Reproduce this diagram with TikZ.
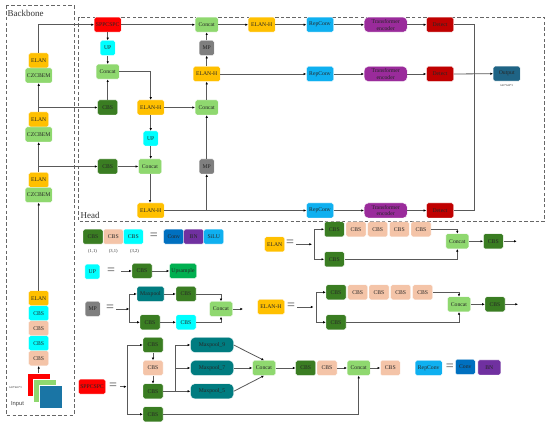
\documentclass[tikz,border=0pt]{standalone}
\usepackage{fontspec}
\setmainfont{Liberation Serif}
\newfontfamily\lsans{Liberation Sans}
\usetikzlibrary{arrows.meta,calc}
\tikzset{
 x=1pt,y=-1pt,
 bx/.style={rounded corners=1.6pt,draw=white,line width=0.4pt,inner sep=0pt,align=center,font=\fontsize{5.7}{6.8}\selectfont,text=black!85,minimum height=15pt},
 w15/.style={bx,minimum width=15pt},
 w20/.style={bx,minimum width=20pt},
 w23/.style={bx,minimum width=23pt},
 w27/.style={bx,minimum width=27pt},
 w43/.style={bx,minimum width=43pt,rounded corners=4pt},
 dcbs/.style={w20,fill=cdg},
 pcbs/.style={w20,fill=cpe},
 ccbs/.style={w20,fill=ccy},
 elan/.style={w20,fill=cor},
 elanh/.style={w27,fill=cor},
 cz/.style={w27,fill=clg},
 conc/.style={w23,fill=clg},
 upb/.style={w15,fill=ccy},
 mpb/.style={w15,fill=cgr},
 spp/.style={w27,fill=red},
 rep/.style={w27,fill=crp},
 tre/.style={w43,fill=cpu},
 det/.style={w27,fill=cde},
 mpool/.style={w27,fill=cte},
 mpoolw/.style={w43,fill=cte},
 sq/.style={draw=white,line width=0.4pt,minimum width=23pt,minimum height=23pt,inner sep=0pt},
 ln/.style={draw=black!65,line width=0.8pt},
 ar/.style={ln,-{Latex[length=2.6pt,width=2.4pt,color=black]}},
 dashbox/.style={draw=black!60,line width=0.8pt,dash pattern=on 3.5pt off 2.2pt},
 eqs/.style={inner sep=0pt,font=\fontsize{14}{14}\selectfont,text=black!70},
 lbl/.style={inner sep=0pt,font=\fontsize{4.6}{5}\selectfont,text=black!80},
 tiny/.style={inner sep=0pt,font=\fontsize{2.8}{3}\selectfont,text=black!80},
 title/.style={inner sep=0pt,font=\fontsize{9}{10}\selectfont,text=black!80},
}
\definecolor{cdg}{HTML}{3A7D22}
\definecolor{cpe}{HTML}{F4C4A8}
\definecolor{ccy}{HTML}{00FFFF}
\definecolor{cor}{HTML}{FFC000}
\definecolor{clg}{HTML}{8FD86F}
\definecolor{cgr}{HTML}{7F7F7F}
\definecolor{crp}{HTML}{0FB0F0}
\definecolor{cpu}{HTML}{9A2B9B}
\definecolor{cde}{HTML}{C00000}
\definecolor{cte}{HTML}{007C80}
\definecolor{cco}{HTML}{0070C0}
\definecolor{cbn}{HTML}{7030A0}
\definecolor{cup}{HTML}{00B050}
\definecolor{cou}{HTML}{1F6485}
\definecolor{cib}{HTML}{1A75A5}
\begin{document}
\begin{tikzpicture}
\useasboundingbox (0,0) rectangle (550,427);
\fill[white] (0,0) rectangle (550,427);
% frames
\draw[dashbox] (6,5.5) rectangle (74,415);
\draw[dashbox] (78.5,17.5) rectangle (544.5,221.5);
\node[title,anchor=west] (tb) at (7.5,13) {Backbone};
\node[title,anchor=west] (th) at (80.5,215.5) {Head};
% backbone
\node[elan] (e3) at (38.7,60.5) {ELAN};
\node[cz] (c3) at (38.7,75.5) {CZCBEM};
\node[elan] (e2) at (38.7,119.5) {ELAN};
\node[cz] (c2) at (38.7,134.5) {CZCBEM};
\node[elan] (e1) at (38.7,180) {ELAN};
\node[cz] (c1) at (38.7,195) {CZCBEM};
\node[elan] (e0) at (38.7,298.3) {ELAN};
\node[ccbs] (b4) at (38.7,313.3) {CBS};
\node[pcbs] (b3) at (38.7,328.3) {CBS};
\node[ccbs] (b2) at (38.7,343.3) {CBS};
\node[pcbs] (b1) at (38.7,358.3) {CBS};
\node[sq,fill=red] (i1) at (38.7,384.7) {};
\node[sq,fill=clg] (i2) at (44.5,390.5) {};
\node[sq,fill=cib] (i3) at (50.2,396.5) {};
\node[tiny] (its) at (15.5,387.7) {640*640*3};
\node[inner sep=0pt,font=\lsans\fontsize{5.8}{6}\selectfont,text=black!75] (il) at (17.5,404) {Input};
% head
\node[spp] (spp) at (107.7,24.7) {SPPCSPC};
\node[upb] (u1) at (107.7,48) {UP};
\node[conc] (k1) at (107.7,71.7) {Concat};
\node[dcbs] (d1) at (107.7,107.5) {CBS};
\node[elanh] (h1) at (150.7,107.5) {ELAN-H};
\node[upb] (u2) at (150.7,138.5) {UP};
\node[conc] (k2) at (150,166.5) {Concat};
\node[dcbs] (d2) at (107.7,166.5) {CBS};
\node[elanh] (h2) at (150.7,210.5) {ELAN-H};
\node[mpb] (m1) at (206.7,166.5) {MP};
\node[conc] (k3) at (206.7,107.5) {Concat};
\node[elanh] (h3) at (206.7,74) {ELAN-H};
\node[mpb] (m2) at (206.7,48) {MP};
\node[conc] (k4) at (206.7,24.7) {Concat};
\node[elanh] (h4) at (261.7,24.7) {ELAN-H};
\node[rep] (r1) at (320,24.7) {RepConv};
\node[rep] (r2) at (320,74) {RepConv};
\node[rep] (r3) at (320,210.5) {RepConv};
\node[tre] (t1) at (385.7,24.7) {Transformer\\encoder};
\node[tre] (t2) at (385.7,74) {Transformer\\encoder};
\node[tre] (t3) at (385.7,210.5) {Transformer\\encoder};
\node[det] (p1) at (440,24.7) {Detect};
\node[det] (p2) at (440,74) {Detect};
\node[det] (p3) at (440,210.5) {Detect};
\node[w27,fill=cou] (out) at (506.7,73.7) {Output};
\node[tiny] (ots) at (506.7,85.7) {640*640*3};
\coordinate (vb) at (474.3,74);
% backbone connectors
\draw[ar] (i1.north) -- (b1.south);
\draw[ar] (e0.north) -- (c1.south);
\draw[ar] (e1.north) -- (c2.south);
\draw[ar] (e2.north) -- (c3.south);
\draw[ar] (e3.north) |- (spp.west);
\draw[ar] (e1.north |- d2.west) -- (d2.west);
\draw[ar] (e2.north |- d1.west) -- (d1.west);
% head connectors
\draw[ar] (spp.south) -- (u1.north);
\draw[ar] (u1.south) -- (k1.north);
\draw[ar] (d1.north) -- (k1.south);
\draw[ar] (k1.east) -| (h1.north);
\draw[ar] (h1.south) -- (u2.north);
\draw[ar] (u2.south) -- (u2.south |- k2.north);
\draw[ar] (d2.east) -- (k2.west);
\draw[ar] (k2.south) -- (k2.south |- h2.north);
\draw[ar] (h1.east) -- (k3.west);
\draw[ar] (m1.north) -- (k3.south);
\draw[ar] (k3.north) -- (h3.south);
\draw[ar] (h3.north) -- (m2.south);
\draw[ar] (m2.north) -- (k4.south);
\draw[ar] (spp.east) -- (k4.west);
\draw[ar] (k4.east) -- (h4.west);
\draw[ar] (h4.east) -- (r1.west);
\draw[ar] (h3.east) -- (r2.west);
\draw[ar] (h2.east) -- (r3.west);
\draw[ar] (m1.south |- h2.east) -- (m1.south);
\draw[ar] (r1.east) -- (t1.west);
\draw[ar] (r2.east) -- (t2.west);
\draw[ar] (r3.east) -- (t3.west);
\draw[ar] (t1.east) -- (p1.west);
\draw[ar] (t2.east) -- (p2.west);
\draw[ar] (t3.east) -- (p3.west);
\draw[ln] (p1.east) -| (vb);
\draw[ln] (p3.east) -| (vb);
\draw[ar] (p2.east) -- (out.west);
% legend CBS
\node[dcbs] (l1) at (93,236.7) {CBS};
\node[pcbs] (l2) at (113.3,236.7) {CBS};
\node[ccbs] (l3) at (133.3,236.7) {CBS};
\node[eqs] (q1) at (153.7,236) {=};
\node[w20,fill=cco] (l4) at (173.7,236.7) {Conv};
\node[w20,fill=cbn] (l5) at (193.7,236.7) {BN};
\node[w20,fill=crp] (l6) at (213.7,236.7) {SiLU};
\node[lbl] (a1) at (92.5,251) {(1,1)};
\node[lbl] (a2) at (113.3,251) {(3,1)};
\node[lbl] (a3) at (134.5,251) {(3,2)};
% legend UP
\node[upb] (lu) at (92.3,271.7) {UP};
\node[eqs] (q2) at (111,271) {=};
\coordinate (lua) at (121,271);
\node[dcbs] (lud) at (142,271) {CBS};
\node[w27,fill=cup] (lus) at (183,271) {Upsample};
\draw[ar] (lua) -- (lud.west);
\draw[ar] (lud.east) -- (lus.west);
% legend MP
\node[mpb] (lm) at (92.7,309) {MP};
\node[eqs] (q3) at (110,308.5) {=};
\coordinate (ma) at (116,309);
\coordinate (mj) at (129.3,309);
\node[mpool] (mm) at (150.5,294) {Maxpool};
\node[dcbs] (md) at (186,294) {CBS};
\node[dcbs] (me) at (150,322.3) {CBS};
\node[ccbs] (mc) at (186,322.3) {CBS};
\node[conc] (mk) at (221,309) {Concat};
\coordinate (mo) at (243,309);
\draw[ar] (ma) -- (mj);
\draw[ar] (mj) |- (mm.west);
\draw[ar] (mj) |- (me.west);
\draw[ar] (mm.east) -- (md.west);
\draw[ar] (me.east) -- (mc.west);
\draw[ar] (md.east) -| (mk.north);
\draw[ar] (mc.east) -| (mk.south);
\draw[ar] (mk.east) -- (mo);
% legend SPPCSPC
\node[spp] (ls) at (92,386.7) {SPPCSPC};
\node[eqs] (q4) at (113,386) {=};
\coordinate (sa) at (120,386.7);
\coordinate (sb) at (126.5,386.7);
\coordinate (sj) at (127.5,386.7);
\node[dcbs] (s1) at (153,345) {CBS};
\node[pcbs] (s2) at (153,368) {CBS};
\node[dcbs] (s3) at (153,391.3) {CBS};
\node[dcbs] (s4) at (153,414.3) {CBS};
\node[mpoolw] (p9) at (212,345) {Maxpool\_9};
\node[mpoolw] (p7) at (212,368) {Maxpool\_7};
\node[mpoolw] (p5) at (212,391.3) {Maxpool\_5};
\coordinate (sk) at (175,391.3);
\node[conc] (sc) at (264,368) {Concat};
\node[dcbs] (s5) at (305.7,368) {CBS};
\node[pcbs] (s6) at (327,368) {CBS};
\node[conc] (sd) at (358.7,368) {Concat};
\node[pcbs] (s7) at (390.3,368) {CBS};
\draw[ar] (sa) -- (sb);
\draw[ar] (sj) |- (s1.west);
\draw[ar] (sj) |- (s4.west);
\draw[ar] (s1.south) -- (s2.north);
\draw[ar] (s2.south) -- (s3.north);
\draw[ar] (s3.east) -- (p5.west);
\draw[ar] (sk) |- (p9.west);
\draw[ar] (sk) |- (p7.west);
\draw[ar] (p9.east) -- (sc.north);
\draw[ar] (p7.east) -- (sc.west);
\draw[ar] (p5.east) -- (sc.south);
\draw[ar] (sc.east) -- (s5.west);
\draw[ar] (s6.east) -- (sd.west);
\draw[ar] (sd.east) -- (s7.west);
\draw[ar] (s4.east) -| (sd.south);
% legend RepConv
\node[rep] (lr) at (428.7,368) {RepConv};
\node[eqs] (q5) at (449.7,367) {=};
\node[w20,fill=cco] (lc) at (465.3,367) {Conv};
\node[w23,fill=cbn] (lb) at (489.3,367.5) {BN};
% legend ELAN
\node[elan] (le) at (274.7,244.3) {ELAN};
\node[eqs] (q6) at (290,243.5) {=};
\coordinate (ea) at (296,244.3);
\coordinate (ej) at (312,244.3);
\coordinate (ejj) at (314.7,244.3);
\node[dcbs] (e11) at (334.3,229.3) {CBS};
\node[pcbs] (e12) at (356,229.3) {CBS};
\node[pcbs] (e13) at (377.7,229.3) {CBS};
\node[pcbs] (e14) at (399.3,229.3) {CBS};
\node[pcbs] (e15) at (421,229.3) {CBS};
\node[dcbs] (e16) at (334.3,259.3) {CBS};
\node[conc] (ek) at (457.3,241.3) {Concat};
\node[dcbs] (e17) at (493.3,241.3) {CBS};
\coordinate (eo) at (516.7,241.3);
\draw[ar] (ea) -- (ej);
\draw[ar] (ejj) |- (e11.west);
\draw[ar] (ejj) |- (e16.west);
\draw[ar] (e15.east) -| (ek.north);
\draw[ar] (e16.east) -| (ek.south);
\draw[ar] (ek.east) -- (e17.west);
\draw[ar] (e17.east) -- (eo);
% legend ELAN-H
\node[elanh] (lh) at (271,307) {ELAN-H};
\node[eqs] (q7) at (291,306.5) {=};
\coordinate (ha) at (297,307);
\coordinate (hj) at (313.5,307);
\coordinate (hjj) at (316.7,307);
\node[dcbs] (h11) at (336,292.3) {CBS};
\node[pcbs] (h12) at (357.7,292.3) {CBS};
\node[pcbs] (h13) at (379,292.3) {CBS};
\node[pcbs] (h14) at (400.7,292.3) {CBS};
\node[pcbs] (h15) at (422.7,292.3) {CBS};
\node[dcbs] (h16) at (336,322.3) {CBS};
\node[conc] (hk) at (459,304.3) {Concat};
\node[dcbs] (h17) at (495,304.3) {CBS};
\coordinate (ho) at (518,304.3);
\draw[ar] (ha) -- (hj);
\draw[ar] (hjj) |- (h11.west);
\draw[ar] (hjj) |- (h16.west);
\draw[ar] (h15.east) -| (hk.north);
\draw[ar] (h16.east) -| (hk.south);
\draw[ar] (hk.east) -- (h17.west);
\draw[ar] (h17.east) -- (ho);
\end{tikzpicture}
\end{document}
